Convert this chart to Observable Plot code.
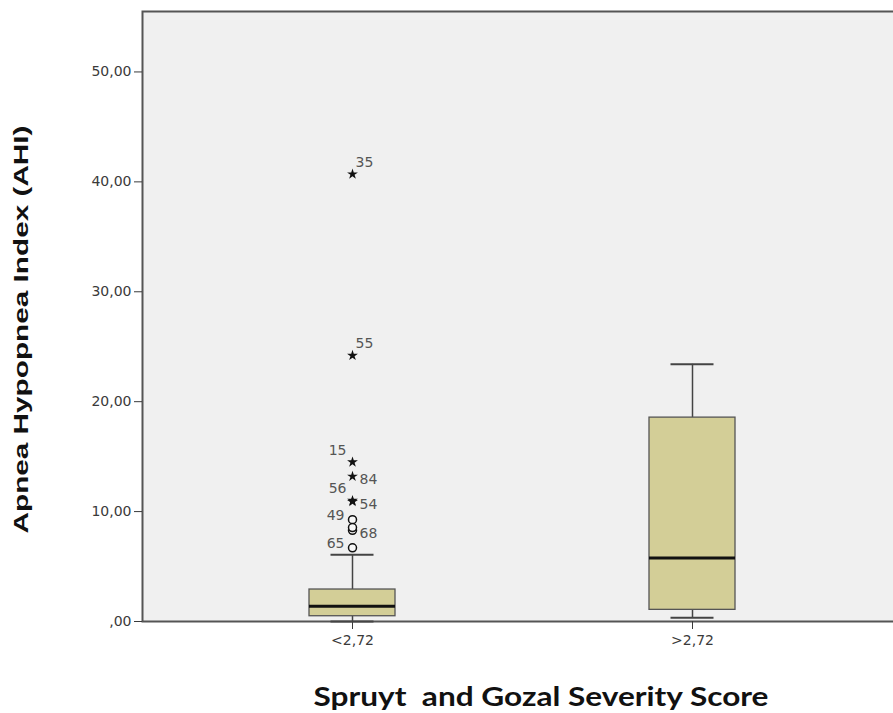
<!DOCTYPE html>
<html>
<head>
<meta charset="utf-8">
<script src="https://cdn.jsdelivr.net/npm/d3@7"></script>
<script src="https://cdn.jsdelivr.net/npm/@observablehq/plot@0.6"></script>
<style>
  html, body { margin: 0; padding: 0; background: #ffffff; overflow: hidden; }
</style>
</head>
<body>
<div id="chart"></div>
<script>
// Box summary per category
const categories = ["<2,72", ">2,72"];
const boxQ1 = [0.48, 1.06];
const boxMedian = [1.39, 5.77];
const boxQ3 = [2.91, 18.55];
const whiskerLow = [0.0, 0.33];
const whiskerHigh = [6.07, 23.4];

// Outliers (all in first category)
const outlierGroup = ["<2,72", "<2,72", "<2,72", "<2,72", "<2,72", "<2,72", "<2,72", "<2,72", "<2,72", "<2,72"];
const outlierIds = ["35", "55", "15", "84", "56", "54", "49", "68", "", "65"];
const outlierValues = [40.7, 24.2, 14.5, 13.2, 11.0, 10.9, 9.26, 8.3, 8.55, 6.7];
const outlierKind = ["extreme", "extreme", "extreme", "extreme", "extreme", "extreme", "outlier", "outlier", "outlier", "outlier"];
const outlierLabelSide = ["upper-right", "upper-right", "upper-left", "right", "upper-left", "right", "left", "right", "none", "left"];

const yTicks = [0, 10, 20, 30, 40, 50];
const xTitle = "Spruyt  and Gozal Severity Score";
const yTitle = "Apnea Hypopnea Index (AHI)";

const boxes = categories.map((c, i) => ({
  cat: c, q1: boxQ1[i], med: boxMedian[i], q3: boxQ3[i], lo: whiskerLow[i], hi: whiskerHigh[i]
}));
const outliers = outlierIds.map((id, i) => ({
  cat: outlierGroup[i], id, v: outlierValues[i], kind: outlierKind[i], side: outlierLabelSide[i]
}));

const fmt = d => d === 0 ? ",00" : d.toFixed(2).replace(".", ",");
const labelStyle = {x: "cat", y: "v", text: "id", fontSize: 14, fill: "#555"};

const svg = Plot.plot({
  width: 893,
  height: 713,
  marginLeft: 142,
  marginRight: -8,
  marginTop: 11,
  marginBottom: 92,
  style: {fontFamily: "DejaVu Sans", fontSize: "14px", background: "#ffffff", overflow: "hidden"},
  x: {type: "band", domain: categories, paddingInner: 0.748, paddingOuter: 0.487, label: null},
  y: {domain: [0, 55.5], label: null},
  marks: [
    Plot.frame({fill: "#f0f0f0", stroke: "#555", strokeWidth: 2}),
    Plot.axisY({ticks: yTicks, tickFormat: fmt, tickSize: 8, tickPadding: 3, fontSize: 14, color: "#3a3a3a", label: null}),
    Plot.axisX({tickSize: 8, tickPadding: 6, fontSize: 14, color: "#3a3a3a", label: null}),
    // whiskers
    Plot.ruleX(boxes, {x: "cat", y1: "q3", y2: "hi", stroke: "#444", strokeWidth: 1.5}),
    Plot.ruleX(boxes, {x: "cat", y1: "q1", y2: "lo", stroke: "#444", strokeWidth: 1.5}),
    Plot.tickY(boxes, {x: "cat", y: "hi", stroke: "#444", strokeWidth: 2, insetLeft: 21.5, insetRight: 21.5}),
    Plot.tickY(boxes, {x: "cat", y: "lo", stroke: "#444", strokeWidth: 2, insetLeft: 21.5, insetRight: 21.5}),
    // boxes
    Plot.barY(boxes, {x: "cat", y1: "q1", y2: "q3", fill: "#d3ce97", stroke: "#555", strokeWidth: 1.3}),
    Plot.tickY(boxes, {x: "cat", y: "med", stroke: "#111", strokeWidth: 3}),
    // outliers
    Plot.dot(outliers.filter(d => d.kind === "outlier"), {x: "cat", y: "v", symbol: "circle", r: 4, fill: "#f8f8f8", stroke: "#111", strokeWidth: 1.5}),
    Plot.dot(outliers.filter(d => d.kind === "extreme"), {x: "cat", y: "v", symbol: "star", r: 3.4, fill: "#111", stroke: "none"}),
    Plot.text(outliers.filter(d => d.side === "upper-right"), {...labelStyle, textAnchor: "start", dx: 3, dy: -12}),
    Plot.text(outliers.filter(d => d.side === "upper-left"), {...labelStyle, textAnchor: "end", dx: -6, dy: -12}),
    Plot.text(outliers.filter(d => d.side === "right"), {...labelStyle, textAnchor: "start", dx: 7, dy: 3}),
    Plot.text(outliers.filter(d => d.side === "left"), {...labelStyle, textAnchor: "end", dx: -8, dy: -4}),
    // titles
    Plot.text([yTitle], {frameAnchor: "left", rotate: -90, textAnchor: "middle", lineAnchor: "middle",
      fontFamily: "Liberation Sans", fontWeight: "bold", fontSize: 21, fill: "#111", dx: -121, dy: 13}),
    Plot.text([xTitle], {frameAnchor: "bottom", textAnchor: "middle", lineAnchor: "middle",
      fontFamily: "Lato", fontWeight: "bold", fontSize: 26, fill: "#111", dx: 19, dy: 76})
  ]
});

d3.select(svg).selectAll("text").each(function() {
  const t = d3.select(this);
  const s = this.textContent;
  if (s === yTitle) {
    t.attr("textLength", 408).attr("lengthAdjust", "spacingAndGlyphs");
  } else if (s === xTitle || s.replace(/\s+/g, " ") === xTitle.replace(/\s+/g, " ")) {
    t.style("white-space", "pre").attr("textLength", 455).attr("lengthAdjust", "spacingAndGlyphs");
  }
});

document.getElementById("chart").appendChild(svg);
</script>
</body>
</html>
